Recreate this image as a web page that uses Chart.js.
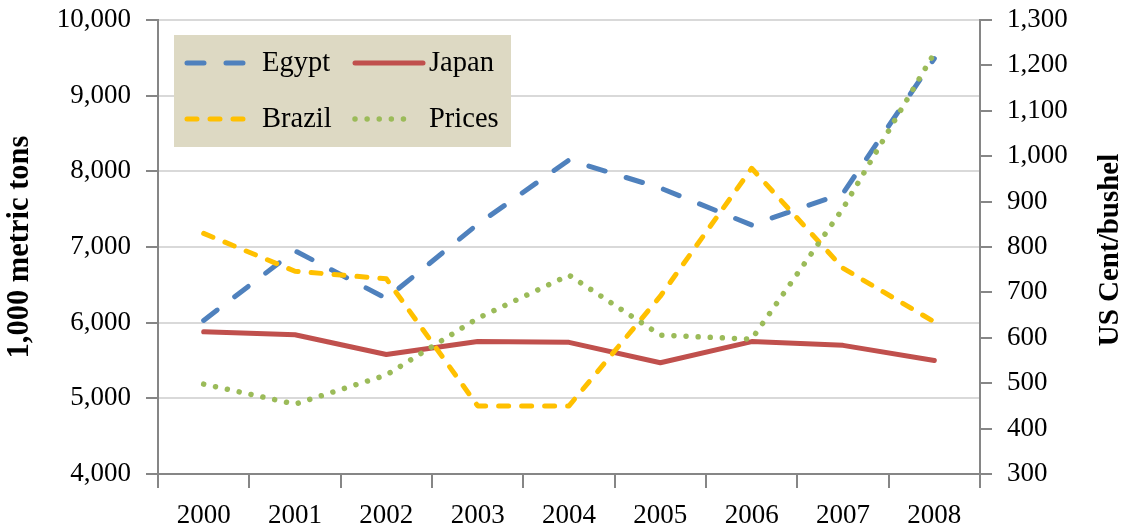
<!DOCTYPE html>
<html>
<head>
<meta charset="utf-8">
<script src="https://cdn.jsdelivr.net/npm/chart.js@4.4.1/dist/chart.umd.min.js"></script>
<style>
  html, body { margin: 0; padding: 0; background: #ffffff; }
  #wrap { width: 1129px; height: 531px; }
</style>
</head>
<body>
<div id="wrap"><canvas id="c" width="1129" height="531"></canvas></div>
<script>
const years = ['2000', '2001', '2002', '2003', '2004', '2005', '2006', '2007', '2008'];
const egypt  = [6030, 6950, 6320, 7300, 8150, 7780, 7290, 7710, 9490];
const japan  = [5880, 5840, 5580, 5750, 5740, 5470, 5750, 5700, 5500];
const brazil = [7180, 6680, 6580, 4900, 4900, 6350, 8040, 6720, 6010];
const prices = [498, 454, 518, 643, 738, 606, 597, 885, 1227];
const leftTicks = [4000, 5000, 6000, 7000, 8000, 9000, 10000];
const rightTicks = [300, 400, 500, 600, 700, 800, 900, 1000, 1100, 1200, 1300];
const leftTitle = '1,000 metric tons';
const rightTitle = 'US Cent/bushel';

const FONT = "'Liberation Serif', 'Times New Roman', serif";
const AXIS = '#868686';
const GRID = '#D9D9D9';

const fmt = v => Number(v).toLocaleString('en-US');

const legendPlugin = {
  id: 'boxLegend',
  afterDraw(chart) {
    const ctx = chart.ctx;
    const ds = chart.data.datasets;
    ctx.save();
    ctx.fillStyle = '#DDD9C3';
    ctx.fillRect(174, 35, 337, 112);
    const items = [
      { d: ds[0], x: 185, y: 63 },
      { d: ds[1], x: 353, y: 63 },
      { d: ds[2], x: 185, y: 119 },
      { d: ds[3], x: 353, y: 119 }
    ];
    items.forEach(it => {
      const d = it.d;
      ctx.save();
      ctx.strokeStyle = d.borderColor;
      ctx.lineWidth = d.borderWidth;
      ctx.lineCap = d.borderCapStyle || 'butt';
      ctx.setLineDash(d.borderDash || []);
      ctx.beginPath();
      const len = d.label === 'Japan' ? 70 : 62;
      ctx.moveTo(it.x + 2, it.y);
      ctx.lineTo(it.x + len, it.y);
      ctx.stroke();
      ctx.restore();
      ctx.fillStyle = '#000000';
      ctx.font = '28.5px ' + FONT;
      ctx.textBaseline = 'middle';
      ctx.textAlign = 'left';
      ctx.fillText(d.label, it.x + (d.label === 'Egypt' || d.label === 'Brazil' ? 77 : 76), it.y + 1);
    });
    // right axis title (reads bottom-to-top)
    ctx.save();
    ctx.translate(1111, 250);
    ctx.rotate(-Math.PI / 2);
    ctx.font = 'bold 29px ' + FONT;
    ctx.fillStyle = '#000000';
    ctx.textAlign = 'center';
    ctx.textBaseline = 'middle';
    ctx.fillText(rightTitle, 0, 0);
    ctx.restore();
    ctx.restore();
  }
};

const common = {
  fill: false,
  pointRadius: 0,
  pointHoverRadius: 0,
  tension: 0,
  borderWidth: 5,
  borderJoinStyle: 'round'
};

new Chart(document.getElementById('c'), {
  type: 'line',
  data: {
    labels: years,
    datasets: [
      Object.assign({}, common, { label: 'Egypt', data: egypt, yAxisID: 'y', borderColor: '#4F81BD', borderDash: [17, 22], borderCapStyle: 'round', order: 3 }),
      Object.assign({}, common, { label: 'Japan', data: japan, yAxisID: 'y', borderColor: '#C0504D', borderCapStyle: 'round', order: 2 }),
      Object.assign({}, common, { label: 'Brazil', data: brazil, yAxisID: 'y', borderColor: '#FFC000', borderDash: [10, 13], borderCapStyle: 'round', order: 1 }),
      Object.assign({}, common, { label: 'Prices', data: prices, yAxisID: 'y1', borderColor: '#9BBB59', borderWidth: 5.5, borderDash: [0.01, 12.1], borderCapStyle: 'round', order: 0 })
    ]
  },
  options: {
    responsive: false,
    animation: false,
    devicePixelRatio: 1,
    layout: { padding: { top: 20, left: 0, right: 0, bottom: 0 } },
    plugins: { legend: { display: false }, tooltip: { enabled: false } },
    scales: {
      x: {
        type: 'category',
        offset: true,
        grid: { offset: true, drawOnChartArea: false, drawTicks: true, tickLength: 14, tickColor: AXIS, lineWidth: 2 },
        border: { color: AXIS, width: 2 },
        ticks: { color: '#000000', font: { family: FONT, size: 27 }, padding: 12, maxRotation: 0, autoSkip: false },
        afterFit(s) { s.height = 57; s.paddingLeft = 0; s.paddingRight = 0; }
      },
      y: {
        position: 'left',
        min: 4000,
        max: 10000,
        afterBuildTicks(s) { s.ticks = leftTicks.map(v => ({ value: v })); },
        ticks: { color: '#000000', font: { family: FONT, size: 27 }, padding: 15, callback: v => fmt(v) },
        grid: { color: GRID, lineWidth: 2, tickColor: AXIS, tickLength: 12 },
        border: { color: AXIS, width: 2 },
        title: { display: true, text: leftTitle, color: '#000000', font: { family: FONT, size: 30.5, weight: 'bold' }, padding: { top: 2, bottom: 0 } },
        afterFit(s) { s.width = 158; s.paddingTop = 0; s.paddingBottom = 0; }
      },
      y1: {
        position: 'right',
        min: 300,
        max: 1300,
        afterBuildTicks(s) { s.ticks = rightTicks.map(v => ({ value: v })); },
        ticks: { color: '#000000', font: { family: FONT, size: 27 }, padding: 15, callback: v => fmt(v) },
        grid: { drawOnChartArea: false, tickColor: AXIS, tickLength: 12, lineWidth: 2 },
        border: { color: AXIS, width: 2 },
        afterFit(s) { s.width = 149; s.paddingTop = 0; s.paddingBottom = 0; }
      }
    }
  },
  plugins: [legendPlugin]
});
</script>
</body>
</html>
